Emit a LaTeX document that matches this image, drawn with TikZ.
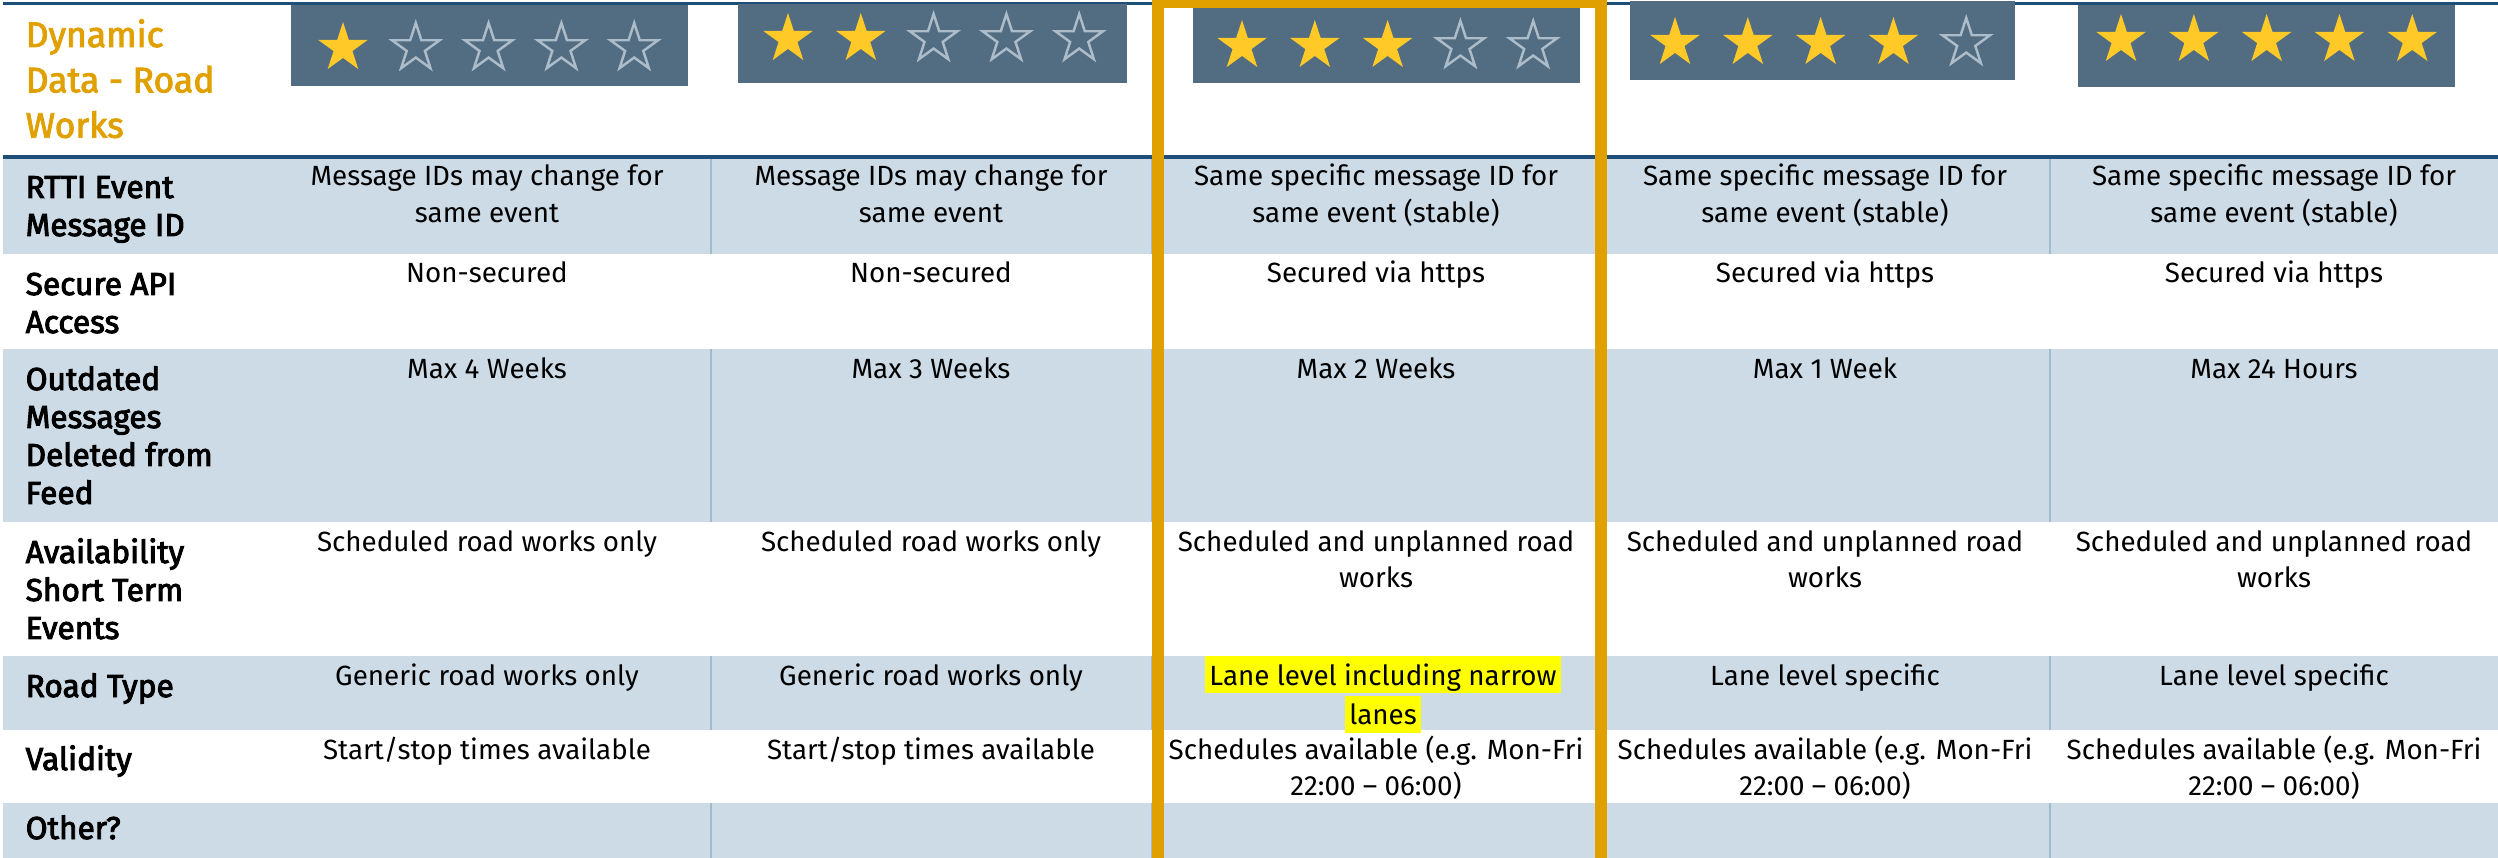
\documentclass[tikz,border=0pt]{standalone}
\usepackage{fontspec}
\setmainfont{Fira Sans}
\newfontfamily\labelfont{Fira Sans}[FakeBold=3]
\newfontfamily\titlefont{Fira Sans}[FakeBold=2.5]
\usetikzlibrary{positioning}
\usetikzlibrary{shapes.geometric}

\definecolor{rowblue}{RGB}{205,219,230}
\definecolor{ruledark}{RGB}{31,78,121}
\definecolor{gridblue}{RGB}{160,186,206}
\definecolor{boxslate}{RGB}{82,108,130}
\definecolor{stargold}{RGB}{255,201,40}
\definecolor{staroff}{RGB}{172,188,200}
\definecolor{pickorange}{RGB}{224,160,0}
\definecolor{hlyellow}{RGB}{255,255,0}

% stacked lines, baseline on the first one
\newcommand{\toplinesc}[1]{\begin{tabular}[t]{@{}c@{}}#1\end{tabular}}
\newcommand{\toplinesl}[1]{\begin{tabular}[t]{@{}l@{}}#1\end{tabular}}
% yellow marker behind one line of text
\newcommand{\hlline}[1]{{\setlength{\fboxsep}{0pt}\colorbox{hlyellow}{\rule[-2.3pt]{0pt}{10.5pt}\kern1.2pt#1\kern1.2pt}}}

\begin{document}
\begin{tikzpicture}[x=0.01cm, y=-0.01cm,
  cell/.style={anchor=base, inner sep=0pt, font=\fontsize{7.9}{10.5}\selectfont},
  rowlabel/.style={anchor=base west, inner sep=0pt, font=\labelfont\fontsize{9.0}{10.8}\selectfont},
  title/.style={anchor=base west, inner sep=0pt, text=pickorange, font=\titlefont\fontsize{10.1}{12.9}\selectfont},
  staron/.style={star, star points=5, star point ratio=2.618, minimum size=0.52cm, inner sep=0pt, fill=stargold},
  staroutline/.style={star, star points=5, star point ratio=2.618, minimum size=0.5cm, inner sep=0pt, draw=staroff, line width=0.7pt},
  gridrule/.style={gridblue, line width=0.4pt}]

\useasboundingbox (0,0) rectangle (2498,858);

% Row bands
\foreach \ytop/\ybot in {157/254, 349/522, 656/730, 803/858}
  \fill[rowblue] (3,\ytop) rectangle (2498,\ybot);

% Column rules (visible in shaded bands)
\foreach \ytop/\ybot in {157/254, 349/522, 656/730, 803/858}
  \foreach \cx in {711,1152,1601,2050}
    \draw[gridrule] (\cx,\ytop) -- (\cx,\ybot);

% Top and header rules
\draw[ruledark, line width=0.85pt] (3,4) -- (2498,4);
\draw[ruledark, line width=1.1pt] (3,157) -- (2498,157);

% Rating boxes with stars
\foreach \bx/\by/\ex/\ey/\sx/\sy/\nfull [count=\k] in
  {291/5/688/86/343/48/1, 738/4/1127/83/788/39/2, 1193/8/1580/83/1242/46/3,
   1630/1/2015/80/1675/43/4, 2078/5/2455/87/2121/40/5}
{
  \fill[boxslate] (\bx,\by) rectangle (\ex,\ey);
  \foreach \i in {1,...,5}
  {
    \ifnum\i>\nfull
      \node[staroutline] (star\k-\i) at (\sx+72.8*\i-72.8,\sy) {};
    \else
      \node[staron] (star\k-\i) at (\sx+72.8*\i-72.8,\sy) {};
    \fi
  }
}

% Title
\node[title] (title) at (25,47) {\toplinesl{Dynamic\\Data - Road\\Works}};

% Row labels
\node[rowlabel] (lab1) at (25,198) {\toplinesl{RTTI Event\\Message ID}};
\node[rowlabel] (lab2) at (25,295) {\toplinesl{Secure API\\Access}};
\node[rowlabel] (lab3) at (25,390) {\toplinesl{Outdated\\Messages\\Deleted from\\Feed}};
\node[rowlabel] (lab4) at (25,563) {\toplinesl{Availability\\Short Term\\Events}};
\node[rowlabel] (lab5) at (25,697) {Road Type};
\node[rowlabel] (lab6) at (25,770) {Validity};
\node[rowlabel] (lab7) at (25,839) {Other?};

% Cells: message id
\foreach \cx/\txt [count=\c] in
  {487/{Message IDs may change for\\same event}, 931/{Message IDs may change for\\same event},
   1376/{Same specific message ID for\\same event (stable)}, 1825/{Same specific message ID for\\same event (stable)},
   2274/{Same specific message ID for\\same event (stable)}}
  \node[cell] (id\c) at (\cx,186) {\toplinesc{\txt}};

% Cells: secure access
\foreach \cx/\txt [count=\c] in
  {487/Non-secured, 931/Non-secured, 1376/Secured via https, 1825/Secured via https, 2274/Secured via https}
  \node[cell] (api\c) at (\cx,283) {\txt};

% Cells: outdated messages
\foreach \cx/\txt [count=\c] in
  {487/Max 4 Weeks, 931/Max 3 Weeks, 1376/Max 2 Weeks, 1825/Max 1 Week, 2274/Max 24 Hours}
  \node[cell] (old\c) at (\cx,378) {\txt};

% Cells: availability
\foreach \cx/\txt [count=\c] in
  {487/Scheduled road works only, 931/Scheduled road works only,
   1376/{Scheduled and unplanned road\\works}, 1825/{Scheduled and unplanned road\\works},
   2274/{Scheduled and unplanned road\\works}}
  \node[cell] (avail\c) at (\cx,551) {\toplinesc{\txt}};

% Cells: road type
\node[cell] (road1) at (487,685) {Generic road works only};
\node[cell] (road2) at (931,685) {Generic road works only};
\node[cell] (road3) at (1383,685) {\toplinesc{\hlline{Lane level including narrow}\\\hlline{lanes}}};
\node[cell] (road4) at (1825,685) {Lane level specific};
\node[cell] (road5) at (2274,685) {Lane level specific};

% Cells: validity
\foreach \cx/\txt [count=\c] in
  {487/{Start/stop times available}, 931/{Start/stop times available},
   1376/{Schedules available (e.g. Mon-Fri\\22:00 -- 06:00)}, 1825/{Schedules available (e.g. Mon-Fri\\22:00 -- 06:00)},
   2274/{Schedules available (e.g. Mon-Fri\\22:00 -- 06:00)}}
  \node[cell] (valid\c) at (\cx,759) {\toplinesc{\txt}};

% Chosen level frame
\draw[pickorange, line width=0.12cm] (1158,900) -- (1158,2) -- (1601,2) -- (1601,900);

\end{tikzpicture}
\end{document}
